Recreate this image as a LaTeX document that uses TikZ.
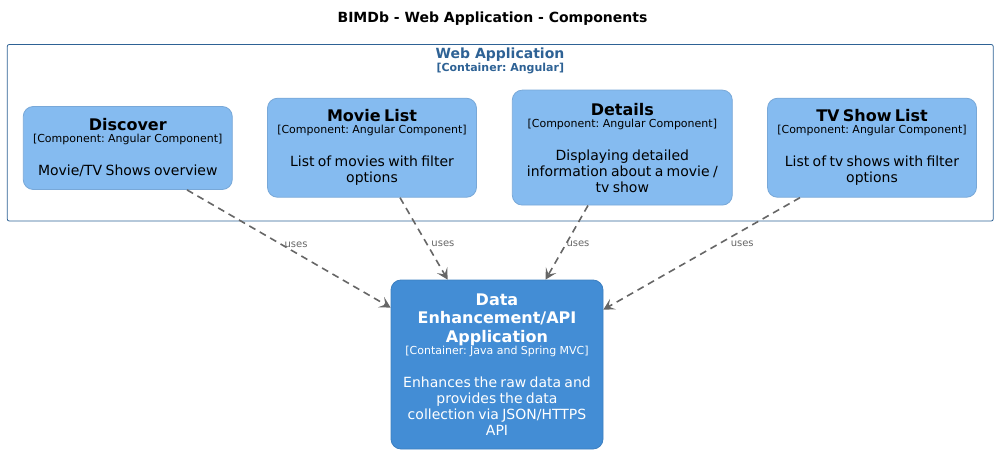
\documentclass[tikz,border=0pt]{standalone}
\usepackage{fontspec}
\setmainfont{DejaVu Sans}
\usepackage{xcolor}
\usetikzlibrary{calc,arrows.meta,positioning}

\definecolor{compfill}{HTML}{85BBF0}
\definecolor{compline}{HTML}{78A8D8}
\definecolor{apifill}{HTML}{438DD5}
\definecolor{apiline}{HTML}{3C7FC0}
\definecolor{bound}{HTML}{2E6295}
\definecolor{relgray}{HTML}{666666}

\frenchspacing

% title, technology, description of one C4 box
\newcommand{\cfourtext}[3]{%
  \lineskiplimit=-\maxdimen
  {\fontsize{16}{18.5}\selectfont\bfseries #1\par}%
  {\fontsize{11}{12}\selectfont #2\par}%
  \vspace{17pt}%
  {\fontsize{14}{16}\selectfont #3\par}}

\begin{document}
\begin{tikzpicture}[x=1pt, y=-1pt,
  comp/.style={draw=compline, fill=compfill, line width=0.8pt, rounded corners=10pt,
    inner sep=0pt, minimum width=209pt, text width=205pt, align=center},
  api/.style={comp, draw=apiline, fill=apifill, text=white, minimum width=212pt},
  bound/.style={draw=bound, line width=0.8pt, rounded corners=2pt, inner sep=0pt},
  rel/.style={draw=relgray, line width=1.6pt, dash pattern=on 7pt off 5pt,
    -{Stealth[length=11pt, width=12pt, inset=5pt]}},
  rellabel/.style={text=relgray, font=\fontsize{10}{12}\selectfont, inner sep=1pt}]

\useasboundingbox (0,0) rectangle (998,454);

\node[font=\fontsize{14}{16}\selectfont\bfseries, anchor=base] (title) at (492.5,23) {BIMDb - Web Application - Components};

% container boundary
\node[bound, minimum width=986pt, minimum height=176.5pt] (webapp) at (500.25,132.75) {};
\node[text=bound, font=\fontsize{14}{16}\selectfont\bfseries, anchor=base] (webappname) at (500,58.3) {Web Application};
\node[text=bound, font=\fontsize{11}{13}\selectfont\bfseries, anchor=base] (webapptech) at (500.3,71.7) {[Container: Angular]};

% components
\node[comp, minimum height=83pt] (disc) at (127.75,148) {\cfourtext{Discover}{[Component: Angular Component]}{Movie/TV Shows overview}};
\node[comp, minimum height=99pt] (movies) at (372,147.75) {\cfourtext{Movie List}{[Component: Angular Component]}{List of movies with filter\\options}};
\node[comp, minimum height=115pt, minimum width=220pt] (details) at (622.3,147.6) {\cfourtext{Details}{[Component: Angular Component]}{Displaying detailed\\information about a movie /\\tv show}};
\node[comp, minimum height=99pt] (shows) at (872,147.75) {\cfourtext{TV Show List}{[Component: Angular Component]}{List of tv shows with filter\\options}};

% api container
\node[api, minimum height=169pt] (api) at (497,364.5) {\cfourtext{Data\\Enhancement/API\\Application}{[Container: Java and Spring MVC]}{Enhances the raw data and\\provides the data\\collection via JSON/HTTPS\\API}};

\draw[rel] ($(disc.south)+(59.25,0)$) -- node[rellabel, pos=0.462, xshift=15pt] (uses1) {uses} ($(api.north west)+(0,28)$);
\draw[rel] ($(movies.south)+(28,0)$) -- node[rellabel, pos=0.566, xshift=16pt] (uses2) {uses} ($(api.north west)+(57,0)$);
\draw[rel] ($(details.south)+(-34.3,0)$) -- node[rellabel, pos=0.52, xshift=12pt] (uses3) {uses} ($(api.north west)+(155,0)$);
\draw[rel] ($(shows.south)+(-72,0)$) -- node[rellabel, pos=0.416, xshift=24pt] (uses4) {uses} ($(api.north east)+(0,30)$);

\end{tikzpicture}
\end{document}
